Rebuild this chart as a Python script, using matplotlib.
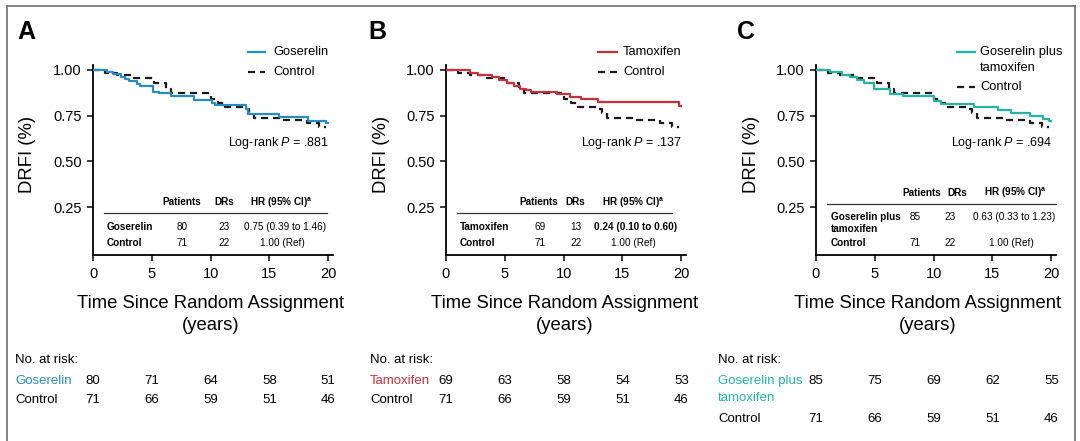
import matplotlib
matplotlib.use('Agg')
import matplotlib.pyplot as plt
import matplotlib.font_manager as fm
from matplotlib import transforms
from matplotlib.lines import Line2D

plt.rcParams['font.family'] = ['Liberation Sans', 'DejaVu Sans']
plt.rcParams['mathtext.fontset'] = 'custom'
plt.rcParams['mathtext.rm'] = 'Liberation Sans'
plt.rcParams['mathtext.it'] = 'Liberation Sans:italic'
plt.rcParams['mathtext.bf'] = 'Liberation Sans:bold'

# condensed face for axis titles and the at-risk table, if installed
have_narrow = any(f.name == 'Liberation Sans Narrow' for f in fm.fontManager.ttflist)
if have_narrow:
    big = dict(family='Liberation Sans Narrow', fontsize=15.5)
    risk_font = dict(family='Liberation Sans Narrow', fontsize=11)
else:
    big = dict(fontsize=13.3)
    risk_font = dict(fontsize=9.5)

# ---- data (step times in years, DRFI after each step)
ctrl_t = [0, 1.0, 2.0, 3.5, 5.2, 6.2, 6.6, 10.0, 10.6, 11.2, 12.8, 13.3, 13.7, 16.0, 18.2, 19.2]
ctrl_s = [1.00, 0.985, 0.973, 0.955, 0.928, 0.895, 0.875, 0.84, 0.82, 0.80, 0.785, 0.765, 0.737, 0.725, 0.71, 0.69]
ctrl_end = 19.8

gos_t = [0, 1.2, 1.7, 2.4, 2.7, 3.1, 3.7, 4.0, 5.1, 5.6, 6.6, 8.6, 10.1, 10.4, 13.0, 13.2, 15.8, 18.3, 19.8]
gos_s = [1.00, 0.987, 0.978, 0.964, 0.951, 0.942, 0.924, 0.913, 0.882, 0.873, 0.855, 0.835, 0.82, 0.81, 0.785, 0.76, 0.745, 0.72, 0.71]
gos_end = 20.0

tam_t = [0, 2.0, 2.7, 3.9, 4.5, 5.2, 5.8, 6.3, 6.8, 7.2, 9.4, 10.5, 11.5, 12.9, 19.8]
tam_s = [1.00, 0.985, 0.973, 0.96, 0.943, 0.928, 0.913, 0.898, 0.888, 0.878, 0.866, 0.853, 0.84, 0.824, 0.805]
tam_end = 20.0

gt_t = [0, 1.2, 2.2, 2.9, 3.5, 4.1, 4.9, 6.3, 7.4, 10.0, 10.6, 13.4, 15.5, 16.6, 18.2, 19.3, 19.8]
gt_s = [1.00, 0.987, 0.973, 0.96, 0.945, 0.928, 0.898, 0.868, 0.86, 0.828, 0.815, 0.80, 0.78, 0.765, 0.748, 0.73, 0.72]
gt_end = 20.0

# at-risk table
risk_times = [0, 5, 10, 15, 20]
risk_ctrl = [71, 66, 59, 51, 46]
risk_gos = [80, 71, 64, 58, 51]
risk_tam = [69, 63, 58, 54, 53]
risk_gt = [85, 75, 69, 62, 55]

# summary tables
pval = ['.881', '.137', '.694']
n_patients = [(80, 71), (69, 71), (85, 71)]
n_drs = [(23, 22), (13, 22), (23, 22)]
hr_txt = ['0.75 (0.39 to 1.46)', '0.24 (0.10 to 0.60)', '0.63 (0.33 to 1.23)']

blue = '#2a8bbf'
red = '#c2323f'
teal = '#26b3a3'

W, H = 1080, 441
fig = plt.figure(figsize=(W / 100, H / 100), dpi=100)


def fx(x):
    return x / W


def fy(y):
    return 1 - y / H


def txt(x, y, s, **kw):
    fig.text(fx(x), fy(y), s, **kw)


# outer frame (left, top, right)
for xs, ys in [([7, 7], [441, 6]), ([7, 1075], [6, 6]), ([1075, 1075], [6, 441])]:
    fig.add_artist(Line2D([fx(v) for v in xs], [fy(v) for v in ys], color='#6e6e6e', lw=1.2))


def step(ax, t, s, end, **kw):
    ax.step(list(t) + [end], list(s) + [s[-1]], where='post', **kw)


def panel(x0, letter, letter_x, risk_x, xlab_x, names, color, t, s, end, risk, k, leg_line_x,
          leg_text_x, tab):
    ax = fig.add_axes([fx(x0), fy(255), fx(240), 190 / H])
    step(ax, t, s, end, color=color, lw=1.6, zorder=3)
    step(ax, ctrl_t, ctrl_s, ctrl_end, color='#1a1a1a', lw=1.6, ls=(0, (3.2, 2.2)), zorder=2)
    ax.set_xlim(0, 20.4)
    ax.set_ylim(-0.012, 1.027)
    ax.set_xticks([0, 5, 10, 15, 20])
    ax.set_yticks([0.25, 0.50, 0.75, 1.00])
    ax.set_yticklabels(['0.25', '0.50', '0.75', '1.00'])
    for sp in ['top', 'right']:
        ax.spines[sp].set_visible(False)
    for sp in ['left', 'bottom']:
        ax.spines[sp].set_linewidth(1.3)
    ax.tick_params(length=4, width=1.2, labelsize=10.5, color='#1a1a1a')
    ax.tick_params(axis='x', pad=5)
    ax.tick_params(axis='y', pad=4)
    ax.set_facecolor('none')

    txt(letter_x, 32, letter, fontsize=18, fontweight='bold', va='center')
    txt(x0 - 65, 154, 'DRFI (%)', rotation=90, va='center', ha='center', **big)
    txt(xlab_x, 303, 'Time Since Random Assignment', ha='center', va='center', **big)
    txt(xlab_x, 325, '(years)', ha='center', va='center', **big)

    # legend
    fig.add_artist(Line2D([fx(leg_line_x[0]), fx(leg_line_x[1])], [fy(52), fy(52)], color=color, lw=1.6))
    for i, nm in enumerate(names):
        txt(leg_text_x, 52 + 16 * i, nm, fontsize=9.3, va='center')
    yc = 72 if len(names) == 1 else 87
    fig.add_artist(Line2D([fx(leg_line_x[0]), fx(leg_line_x[1])], [fy(yc), fy(yc)], color='#1a1a1a',
                          lw=1.6, ls=(0, (3.2, 2.2))))
    txt(leg_text_x, yc, 'Control', fontsize=9.3, va='center')

    txt(x0 + 236, 143, r'Log-rank $\it{P}$ = ' + pval[k], fontsize=9, ha='right', va='center')

    # small summary table
    c_pat, c_dr, c_hr, l0, l1, lab, v_pat, v_dr, v_hr = tab
    fs = 7.2
    two = len(names) > 1
    y_head = 193 if two else 202.5
    y_line = 204 if two else 212.5
    y_top = 217 if two else 227
    txt(x0 + c_pat, y_head, 'Patients', fontsize=fs, fontweight='bold', ha='center', va='center')
    txt(x0 + c_dr, y_head, 'DRs', fontsize=fs, fontweight='bold', ha='center', va='center')
    txt(x0 + c_hr, y_head, r'HR (95% CI)$^{\mathbf{a}}$', fontsize=fs, fontweight='bold', ha='center', va='center')
    fig.add_artist(Line2D([fx(x0 + l0), fx(x0 + l1)], [fy(y_line), fy(y_line)], color='#333333', lw=0.9))
    for i, nm in enumerate(names):
        txt(x0 + lab, y_top + 12.5 * i, nm, fontsize=fs, fontweight='bold', va='center')
    txt(x0 + lab, 243, 'Control', fontsize=fs, fontweight='bold', va='center')
    txt(x0 + v_pat, y_top, str(n_patients[k][0]), fontsize=fs, ha='center', va='center')
    txt(x0 + v_pat, 243, str(n_patients[k][1]), fontsize=fs, ha='center', va='center')
    txt(x0 + v_dr, y_top, str(n_drs[k][0]), fontsize=fs, ha='right', va='center')
    txt(x0 + v_dr, 243, str(n_drs[k][1]), fontsize=fs, ha='right', va='center')
    txt(x0 + v_hr, y_top, hr_txt[k], fontsize=fs, ha='center', va='center',
        fontweight='bold' if k == 1 else 'normal')
    txt(x0 + v_hr - 3, 243, '1.00 (Ref)', fontsize=fs, ha='center', va='center')

    # numbers at risk
    txt(risk_x, 360, 'No. at risk:', va='center', **risk_font)
    for i, nm in enumerate(names):
        txt(risk_x, 381 + 17 * i, nm, va='center', color=color, **risk_font)
    yc = 400 if len(names) == 1 else 419
    txt(risk_x, yc, 'Control', va='center', **risk_font)
    tr = transforms.blended_transform_factory(ax.transData, fig.transFigure)
    for tt, a, b in zip(risk_times, risk, risk_ctrl):
        ax.text(tt, fy(381), str(a), transform=tr, ha='center', va='center', clip_on=False, **risk_font)
        ax.text(tt, fy(yc), str(b), transform=tr, ha='center', va='center', clip_on=False, **risk_font)
    return ax


panel(93, 'A', 17, 15, 211, ['Goserelin'], blue, gos_t, gos_s, gos_end, risk_gos, 0,
      (248, 265), 273, (89, 131, 188, 11, 234, 14, 89, 137, 192))
panel(446, 'B', 368, 370, 565, ['Tamoxifen'], red, tam_t, tam_s, tam_end, risk_tam, 1,
      (598, 617), 623, (93, 129, 187, 11, 226, 14, 94, 136, 190))
panel(816, 'C', 737, 718, 928, ['Goserelin plus', 'tamoxifen'], teal, gt_t, gt_s, gt_end, risk_gt, 2,
      (957, 975), 980, (106, 141, 199, 11, 240, 15, 99, 140, 198))

fig.savefig('out.png', dpi=100)
